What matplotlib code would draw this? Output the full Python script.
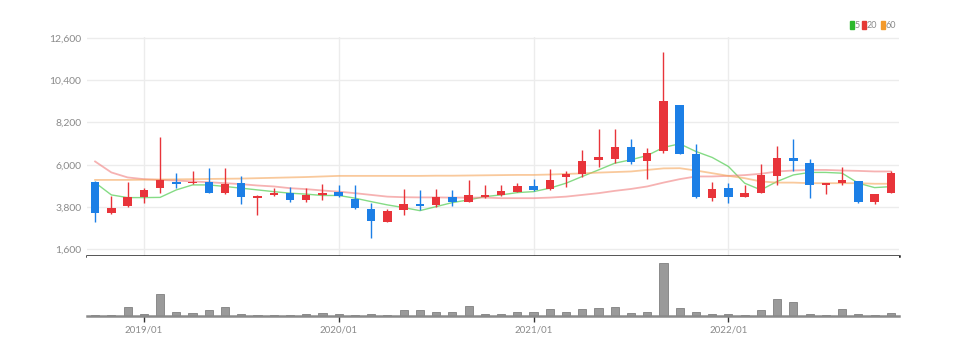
"""Monthly candlestick chart with moving averages and volume."""
import matplotlib.pyplot as plt
from matplotlib.patches import Rectangle
import numpy as np

# 2018/10 .. 2022/11, monthly
months = ["2018/10", "2018/11", "2018/12",
          "2019/01", "2019/02", "2019/03", "2019/04", "2019/05", "2019/06",
          "2019/07", "2019/08", "2019/09", "2019/10", "2019/11", "2019/12",
          "2020/01", "2020/02", "2020/03", "2020/04", "2020/05", "2020/06",
          "2020/07", "2020/08", "2020/09", "2020/10", "2020/11", "2020/12",
          "2021/01", "2021/02", "2021/03", "2021/04", "2021/05", "2021/06",
          "2021/07", "2021/08", "2021/09", "2021/10", "2021/11", "2021/12",
          "2022/01", "2022/02", "2022/03", "2022/04", "2022/05", "2022/06",
          "2022/07", "2022/08", "2022/09", "2022/10", "2022/11"]

opens = [5125, 3480, 3860, 4310, 4780, 5090, 5030, 5120, 4520, 5040,
         4260, 4420, 4520, 4170, 4440, 4570, 4220, 3690, 3010, 3650,
         3980, 3910, 4340, 4080, 4320, 4400, 4600, 4900, 4730, 5350,
         5530, 6260, 6290, 6900, 6170, 6740, 9120, 6550, 4260, 4780,
         4340, 4550, 5420, 6340, 6080, 4920, 5040, 5160, 4080, 4550]
highs = [5150, 4380, 5090, 4790, 7470, 5590, 5650, 5820, 5820, 5420,
         4400, 4790, 4860, 4780, 5000, 4920, 4950, 4030, 3690, 4730,
         4690, 4750, 4660, 5210, 4950, 4950, 5070, 5250, 5770, 5650,
         6780, 7860, 7860, 7350, 6880, 11870, 9130, 7070, 5120, 5070,
         4920, 6030, 6950, 7350, 6290, 5060, 5900, 5170, 4500, 5680]
lows = [3000, 3420, 3820, 4030, 4520, 4780, 5000, 4520, 4500, 3950,
        3390, 4380, 4050, 4080, 4190, 4330, 3720, 2170, 3000, 3390,
        3650, 3820, 3850, 4060, 4290, 4370, 4580, 4640, 4690, 4830,
        5370, 5870, 6110, 6030, 5250, 6630, 6540, 4260, 4090, 4030,
        4320, 4520, 4950, 5650, 4260, 4480, 4950, 4030, 3950, 4540]
closes = [3510, 3770, 4310, 4690, 5210, 5000, 5120, 4550, 4990, 4340,
          4380, 4550, 4170, 4430, 4550, 4380, 3740, 3080, 3610, 3960,
          3860, 4310, 4080, 4400, 4430, 4640, 4900, 4660, 5210, 5530,
          6170, 6380, 6920, 6120, 6600, 9330, 6550, 4310, 4740, 4310,
          4550, 5470, 6340, 6170, 4950, 5040, 5210, 4080, 4480, 5590]

ma5 = [5070, 4430, 4290, 4290, 4300, 4690, 4950, 4950, 4870, 4780,
       4690, 4600, 4520, 4470, 4400, 4400, 4260, 4080, 3910, 3770,
       3610, 3820, 4030, 4170, 4340, 4430, 4550, 4600, 4780, 5040,
       5390, 5730, 6080, 6260, 6480, 6900, 7090, 6690, 6380, 5910,
       5040, 4690, 5130, 5470, 5600, 5600, 5560, 5040, 4810, 4860]
ma20 = [6170, 5600, 5340, 5250, 5210, 5180, 5130, 5090, 5040, 4990,
        4920, 4870, 4780, 4730, 4660, 4600, 4520, 4430, 4340, 4310,
        4300, 4300, 4290, 4290, 4290, 4260, 4260, 4260, 4290, 4340,
        4430, 4520, 4640, 4740, 4870, 5070, 5250, 5390, 5390, 5420,
        5460, 5530, 5650, 5700, 5730, 5730, 5700, 5680, 5650, 5650]
ma60 = [5210, 5210, 5210, 5220, 5230, 5240, 5250, 5260, 5270, 5280,
        5300, 5320, 5340, 5360, 5390, 5420, 5420, 5420, 5420, 5420,
        5420, 5430, 5430, 5440, 5450, 5460, 5470, 5470, 5490, 5520,
        5550, 5590, 5620, 5650, 5730, 5810, 5820, 5700, 5560, 5420,
        5300, 5130, 5070, 5070, 5040, 5040, 5040, 5040, 5010, 5010]

volumes = [3, 3, 26, 7, 65, 13, 8, 17, 27, 6, 3, 3, 3, 6, 8,
           7, 3, 6, 3, 18, 17, 12, 12, 31, 7, 6, 11,
           13, 21, 11, 21, 25, 27, 8, 12, 159, 25, 11, 7,
           6, 3, 17, 50, 42, 6, 3, 20, 6, 3, 8]

price_ticks = [1600, 3800, 6000, 8200, 10400, 12600]
year_labels = ["2019/01", "2020/01", "2021/01", "2022/01"]
legend_labels = ["5", "20", "60"]
legend_colors = ["#2db82d", "#e53935", "#f39a2c"]

UP = "#e8343a"
DOWN = "#1c7fe6"
GRID = "#ececec"
TXT = "#8a8a8a"

plt.rcParams["font.family"] = ["Lato", "DejaVu Sans"]

x = np.arange(len(months))
o = np.array(opens)
c = np.array(closes)
colors = [UP if cc >= oo else DOWN for oo, cc in zip(o, c)]

fig = plt.figure(figsize=(9.6, 3.55), dpi=100)
ax = fig.add_axes([0.0906, 0.2789, 0.8458, 0.6169])
axv = fig.add_axes([0.0906, 0.1099, 0.8458, 0.1690])

# price panel
ax.vlines(x, lows, highs, colors=colors, linewidth=1, zorder=3)
body = np.maximum(np.abs(c - o), 60)
ax.bar(x, body, bottom=np.minimum(o, c), width=0.52, color=colors,
       linewidth=0, zorder=4)
ax.plot(x, ma5, color="#5ccf5c", alpha=0.75, linewidth=1, zorder=2)
ax.plot(x, ma20, color="#f08080", alpha=0.6, linewidth=1.3, zorder=2)
ax.plot(x, ma60, color="#f5a65b", alpha=0.6, linewidth=1.3, zorder=2)

ax.set_xlim(-0.5, len(months) - 0.5)
ax.set_ylim(1250, 12650)
ax.set_yticks(price_ticks)
ax.set_yticklabels([f"{v:,}" for v in price_ticks], color=TXT, fontsize=7.5)
year_pos = [months.index(m) for m in year_labels]
ax.set_xticks(year_pos)
ax.set_xticklabels([])
ax.tick_params(length=0, pad=4)
ax.grid(True, color=GRID, linewidth=1)
ax.set_axisbelow(True)
for side in ["top", "right", "left"]:
    ax.spines[side].set_visible(False)
ax.spines["bottom"].set_color("#222222")
ax.spines["bottom"].set_linewidth(1.8)

# legend (top right): small colored bars + labels
W, H = 960, 355
for lx, lab, col in zip([850, 862, 881], legend_labels, legend_colors):
    fig.patches.append(Rectangle((lx / W, 1 - 29 / H), 4 / W, 8 / H,
                                 transform=fig.transFigure, color=col))
    fig.text((lx + 5) / W, 1 - 25 / H, lab, color=TXT, fontsize=6.5,
             ha="left", va="center")

# volume panel
axv.bar(x, volumes, width=0.5, color="#9a9a9a", edgecolor="#808080",
        linewidth=0.6)
axv.set_xlim(-0.5, len(months) - 0.5)
axv.set_ylim(0, 179)
axv.set_yticks([])
axv.set_xticks(year_pos)
axv.set_xticklabels(year_labels, color=TXT, fontsize=7)
axv.tick_params(axis="x", length=4, width=1, color="#333333", pad=3)
for side in ["top", "right", "left"]:
    axv.spines[side].set_visible(False)
axv.spines["bottom"].set_color("#8a8a8a")
axv.spines["bottom"].set_linewidth(1.8)

fig.savefig("out.png", dpi=100)
